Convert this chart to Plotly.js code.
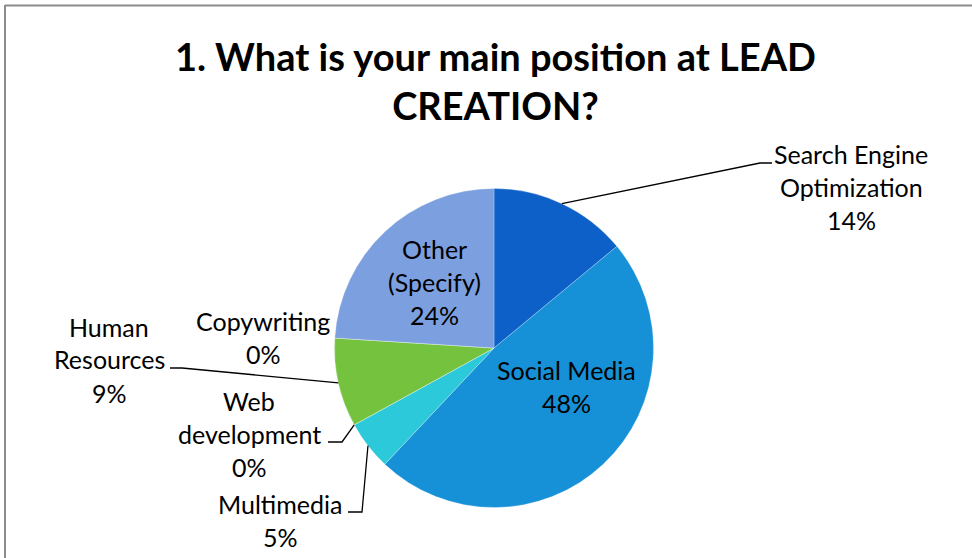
<!DOCTYPE html>
<html>
<head>
<meta charset="utf-8">
<script src="https://cdn.plot.ly/plotly-3.0.1.min.js"></script>
<style>html,body{margin:0;padding:0;background:#fff;}#chart{width:972px;height:558px;}</style>
</head>
<body>
<div id="chart"></div>
<script>
// ---- data ----
const titleText = "1. What is your main position at LEAD<br>CREATION?";
const categories = ["Search Engine Optimization", "Social Media", "Multimedia", "Web development", "Human Resources", "Copywriting", "Other (Specify)"];
const shares = [14, 48, 5, 0, 9, 0, 24];

// ---- styles ----
const sliceColors = ["#0D60C8", "#1690D6", "#2BC9DA", "#2BC9DA", "#74C23E", "#7C9FE0", "#7C9FE0"];
const W = 972, H = 558;
const pieCenter = {x: 494, y: 348}, pieR = 159.5;
const fontFamily = "Lato, 'Open Sans', sans-serif";
const labelSize = 25, lineGap = 33;

// label placement (pixel positions): words before break, centre x, first-line y, optional leader elbow
const labelPlacement = [
  {brk: 2, cx: 851, y0: 154.5, leader: [[772, 163], [760, 163]]},
  {brk: 0, cx: 566, y0: 371},
  {brk: 0, cx: 280, y0: 505, leader: [[348, 512], [362, 512]]},
  {brk: 1, cx: 249, y0: 401.5, leader: [[328, 442], [342, 442]]},
  {brk: 1, cx: 109, y0: 327.5, leader: [[170, 368], [182, 368]]},
  {brk: 0, cx: 263, y0: 322},
  {brk: 1, cx: 434.5, y0: 249.5}
];

const px = x => x / W;
const py = y => 1 - y / H;

const total = shares.reduce((a, b) => a + b, 0);
const annotations = [];
const shapes = [];
let cum = 0;
categories.forEach((cat, i) => {
  const p = labelPlacement[i];
  const words = cat.split(" ");
  const lines = p.brk ? [words.slice(0, p.brk).join(" "), words.slice(p.brk).join(" ")] : [cat];
  lines.push(shares[i] + "%");
  lines.forEach((ln, k) => {
    annotations.push({
      xref: "paper", yref: "paper", x: px(p.cx), y: py(p.y0 + k * lineGap - 1),
      xanchor: "center", yanchor: "middle", showarrow: false, text: ln,
      font: {family: fontFamily, size: labelSize, color: "#000"}
    });
  });
  const midAng = (cum + shares[i] / 2) / total * 2 * Math.PI;
  cum += shares[i];
  if (p.leader) {
    const ex = pieCenter.x + pieR * Math.sin(midAng);
    const ey = pieCenter.y - pieR * Math.cos(midAng);
    const pts = p.leader.concat([[ex, ey]]);
    const path = pts.map((q, j) => (j ? "L" : "M") + px(q[0]).toFixed(5) + "," + py(q[1]).toFixed(5)).join(" ");
    shapes.push({type: "path", xref: "paper", yref: "paper", path: path, line: {color: "#000", width: 1.3}});
  }
});

// chart frame (top and left edges visible)
shapes.push({type: "line", xref: "paper", yref: "paper", x0: px(5), y0: py(5.5), x1: px(972), y1: py(5.5), line: {color: "#8c8c8c", width: 2}});
shapes.push({type: "line", xref: "paper", yref: "paper", x0: px(5), y0: py(5), x1: px(5), y1: py(558), line: {color: "#8c8c8c", width: 2}});

const trace = {
  type: "pie",
  labels: categories,
  values: shares,
  sort: false,
  direction: "clockwise",
  rotation: 0,
  textinfo: "none",
  hoverinfo: "label+percent",
  marker: {colors: sliceColors, line: {color: "rgba(255,255,255,0.25)", width: 1}},
  domain: {x: [px(pieCenter.x - pieR), px(pieCenter.x + pieR)], y: [py(pieCenter.y + pieR), py(pieCenter.y - pieR)]},
  showlegend: false
};

const layout = {
  width: W, height: H,
  margin: {l: 0, r: 0, t: 0, b: 0},
  paper_bgcolor: "#fff",
  showlegend: false,
  title: {
    text: titleText, x: px(495.5), xref: "paper", xanchor: "center",
    y: py(71), yref: "container", yanchor: "middle",
    font: {family: fontFamily, size: 38, color: "#000", weight: "bold"}
  },
  annotations: annotations,
  shapes: shapes
};

Plotly.newPlot("chart", [trace], layout, {displayModeBar: false, staticPlot: true});
</script>
</body>
</html>
